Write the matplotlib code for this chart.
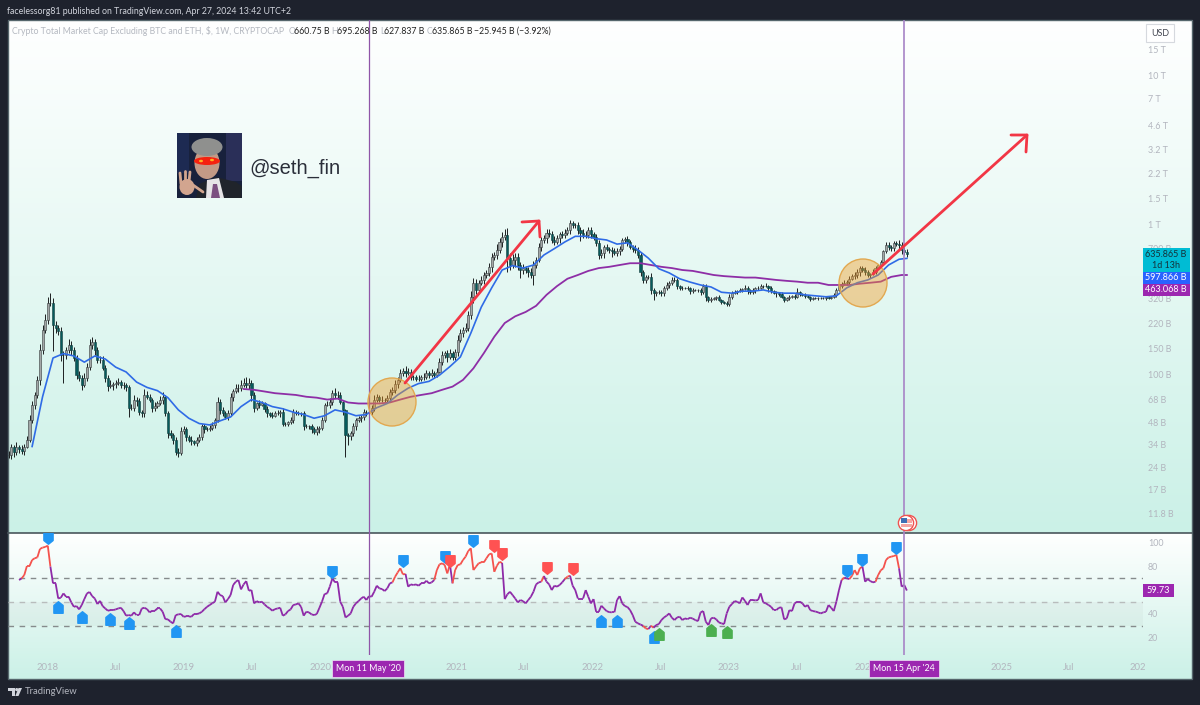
import numpy as np
import pandas as pd
import matplotlib
matplotlib.use("Agg")
import matplotlib.pyplot as plt
import matplotlib.dates as mdates
from matplotlib.collections import LineCollection
from matplotlib.patches import Rectangle, Circle, Ellipse, Polygon
from matplotlib.path import Path

plt.rcParams['font.family'] = ['Lato', 'DejaVu Sans']

# weekly closes in billions, one row per ten bars
closes = [
    # 2017
    29, 32.5, 30.3, 33, 32, 30.8, 33, 36.7, 50, 63, 73, 92, 146, 199, 232,
    # 2018
    302, 302, 215, 205, 195, 135, 135, 146, 158, 146,
    129, 99, 95, 85, 95, 112, 158, 165, 146, 125,
    125, 110, 95, 84, 85, 86, 88, 89, 85, 85,
    82, 60, 60, 68, 66, 56, 55, 73, 71, 68,
    60, 62, 64, 68, 71, 55, 40.6, 39.6, 36.7, 30.5,
    30, 41.6, 43,
    # 2019
    38, 36.7, 36, 35, 36.7, 38, 45, 43, 43, 44,
    46, 50, 65, 58, 55, 52, 55, 71, 77, 81,
    81, 85, 88, 85, 88, 73, 60, 64, 63, 64,
    59, 55, 54, 53, 55, 55, 56, 47, 47, 48,
    50, 56, 55, 55, 55, 45, 45, 45, 43, 41,
    43, 44,
    # 2020
    50, 63, 63, 65, 75, 73, 73, 65, 58, 39.6,
    39, 40.5, 45, 50, 51, 52, 56, 56, 56, 60,
    68, 71, 68, 68, 68, 70, 76, 79, 87, 92,
    102, 105, 102, 104, 96, 96, 94, 94, 96, 96,
    102, 99, 102, 99, 104, 121, 135, 139, 131, 139,
    131, 141,
    # 2021
    171, 189, 199, 205, 251, 331, 411, 368, 411, 429,
    463, 478, 525, 610, 630, 681, 770, 832, 857, 603,
    540, 584, 610, 540, 500, 515, 500, 485, 463, 540,
    584, 710, 794, 820, 890, 870, 794, 770, 820, 870,
    857, 890, 926, 1030, 1000, 1000, 926, 890, 857, 857,
    926, 870,
    # 2022
    832, 760, 630, 650, 710, 695, 681, 665, 650, 665,
    695, 794, 805, 770, 710, 695, 681, 630, 485, 429,
    447, 447, 368, 350, 355, 355, 350, 380, 397, 411,
    429, 429, 390, 380, 380, 380, 380, 361, 368, 368,
    368, 355, 390, 331, 316, 321, 325, 331, 316, 306,
    300, 297,
    # 2023
    331, 350, 355, 361, 368, 374, 380, 368, 355, 368,
    380, 380, 390, 392, 390, 380, 361, 350, 350, 345,
    331, 316, 325, 331, 336, 331, 355, 345, 341, 336,
    331, 321, 325, 325, 325, 325, 325, 331, 325, 331,
    341, 368, 390, 405, 411, 418, 437, 455, 463, 485,
    515, 500,
    # 2024
    485, 463, 470, 485, 515, 540, 565, 665, 735, 710,
    700, 760, 750, 730, 680, 661, 636,
]

# wick lengths as percent beyond the candle body
wick_up = [
    6, 5, 4, 7, 3, 5, 4, 6, 8, 6, 5, 7, 10, 8, 9,
    10, 17, 8, 6, 5, 7, 6, 5, 9, 6, 5, 4, 7, 5, 8, 6, 9, 8, 5, 4,
    6, 7, 5, 4, 8, 3, 5, 6, 4, 5, 3, 4, 6, 7, 4, 5, 3, 9, 6, 4,
    3, 5, 4, 6, 7, 3, 4, 5, 3, 4, 6, 7, 5,
    4, 3, 5, 2, 4, 6, 3, 4, 3, 5, 4, 3, 9, 5, 4, 3, 5, 6, 4, 7,
    6, 8, 7, 9, 8, 5, 4, 3, 6, 4, 3, 5, 2, 4, 3, 5, 4, 6, 3, 2,
    4, 5, 3, 4, 2, 3, 4, 2, 3, 4, 5, 3,
    4, 3, 6, 7, 5, 8, 6, 4, 3, 2, 3, 4, 5, 3, 4, 3, 5, 4, 6, 5,
    7, 4, 3, 5, 3, 4, 6, 4, 5, 4, 7, 5, 9, 6, 4, 3, 3, 5, 4, 6,
    5, 4, 7, 3, 6, 6, 7, 4, 5, 6, 4, 5,
    7, 6, 5, 8, 6, 9, 7, 6, 5, 6, 5, 4, 6, 7, 5, 9, 6, 8, 9, 12,
    8, 9, 6, 7, 5, 6, 4, 5, 6, 7, 5, 6, 5, 4, 6, 5, 4, 6, 5, 3,
    4, 5, 4, 5, 4, 3, 5, 4, 6, 7, 4, 5,
    3, 4, 5, 6, 4, 5, 3, 4, 6, 5, 4, 3, 4, 5, 3, 4, 6, 4, 5, 3,
    4, 3, 6, 3, 2, 4, 3, 3, 4, 2, 5, 4, 3, 2, 3, 2, 3, 2, 3, 2,
    2, 3, 4, 3, 2, 3, 2, 2, 3, 2, 2, 3,
    4, 3, 3, 2, 3, 2, 4, 3, 2, 3, 2, 3, 3, 2, 4, 2, 3, 2, 3, 2,
    3, 2, 2, 3, 2, 3, 6, 2, 2, 3, 2, 1, 2, 2, 1, 2, 2, 1, 2, 2,
    3, 3, 4, 3, 5, 3, 4, 3, 5, 4, 3, 4,
    4, 3, 2, 4, 3, 2, 3, 3, 4, 5, 4, 3, 3, 6, 5, 5, 5,
]
wick_down = [
    5, 6, 7, 4, 6, 5, 6, 3, 4, 5, 6, 4, 7, 6, 5,
    6, 5, 33, 7, 6, 9, 35, 6, 5, 8, 4, 6, 5, 7, 3, 5, 4, 6, 7, 4,
    5, 3, 6, 7, 4, 8, 5, 3, 4, 6, 5, 14, 3, 5, 7, 4, 6, 5, 3, 4,
    7, 5, 4, 3, 6, 4, 8, 5, 6, 5, 6, 3, 4,
    5, 4, 6, 3, 5, 3, 4, 6, 3, 2, 4, 5, 3, 6, 4, 3, 5, 4, 6, 3,
    5, 4, 3, 5, 6, 9, 6, 4, 5, 3, 5, 6, 3, 4, 2, 3, 5, 4, 3, 4,
    3, 5, 2, 3, 4, 5, 3, 4, 6, 3, 4, 5,
    3, 4, 3, 5, 4, 5, 6, 3, 8, 29, 14, 6, 4, 5, 3, 5, 4, 6, 9, 4,
    5, 3, 4, 3, 5, 3, 6, 4, 5, 7, 3, 4, 5, 3, 4, 5, 3, 4, 3, 5,
    3, 4, 3, 5, 3, 2, 5, 4, 7, 3, 5, 4,
    5, 4, 6, 3, 5, 7, 9, 6, 5, 4, 6, 5, 4, 7, 5, 6, 5, 7, 4, 20,
    8, 5, 10, 7, 12, 6, 5, 8, 4, 14, 5, 3, 6, 4, 7, 5, 4, 5, 3, 7,
    4, 5, 3, 6, 4, 4, 6, 12, 5, 4, 5, 6,
    4, 5, 6, 4, 7, 3, 5, 8, 3, 4, 5, 3, 4, 6, 3, 5, 4, 4, 6, 4,
    5, 3, 6, 10, 4, 3, 5, 4, 3, 5, 4, 3, 5, 3, 4, 2, 3, 5, 3, 2,
    3, 4, 3, 6, 4, 3, 2, 3, 2, 3, 2, 3,
    3, 4, 2, 3, 2, 3, 2, 6, 3, 2, 4, 3, 2, 3, 2, 6, 3, 2, 6, 3,
    2, 4, 2, 3, 2, 3, 2, 3, 2, 3, 2, 3, 2, 2, 3, 2, 2, 3, 1, 2,
    2, 3, 2, 3, 2, 4, 3, 2, 5, 4, 6, 3,
    5, 3, 4, 2, 3, 2, 3, 4, 3, 4, 5, 4, 3, 5, 6, 5, 4,
]

# moving averages, read every fourth bar (billions)
blue_ma = [
    33, 71, 129, 138, 133, 121, 133, 127, 112, 104, 89, 82, 78, 70, 58, 51, 47, 46, 49, 52,
    61, 68, 65, 61, 59, 56, 54, 51, 53, 58, 56, 53, 54, 60, 64, 73, 81, 87, 90, 99,
    113, 131, 189, 282, 380, 500, 535, 515, 540, 630, 695, 770, 840, 840, 810, 794, 745, 760, 681, 600,
    510, 478, 437, 415, 397, 385, 355, 350, 361, 361, 368, 355, 350, 350, 341, 336, 331, 336, 380, 411,
    429, 463, 540, 590, 598,
]
purple_ma = [
    80, 79, 77, 75, 74, 73, 71, 70, 68, 69, 65, 64, 64, 64, 65, 68, 71, 73, 75, 79,
    83, 92, 110, 139, 179, 221, 245, 262, 288, 341, 390, 437, 463, 493, 515, 525, 540, 555, 555, 540,
    525, 515, 500, 493, 478, 463, 455, 450, 445, 445, 437, 429, 423, 418, 411, 411, 397, 397, 397, 405,
    411, 418, 450, 463, 463,
]

# rsi from the fifth bar on
rsi = [
    68.6, 70, 72.8, 80.4, 80.4, 85.5, 87, 87.7, 94.8, 96,
    96.5, 97.6, 79.9, 65.8, 65.8, 53, 53.7, 57.3, 54.5, 54.5,
    49.7, 46, 46.6, 43.8, 47.5, 52.5, 57.3, 58.5, 55, 53,
    48.3, 51, 46.6, 44.6, 42.7, 43.2, 43.2, 43.8, 44.6, 45.2,
    42.4, 38.5, 39, 38.5, 41.3, 39, 39, 44.6, 45.2, 44,
    41.3, 42.7, 42.7, 44.6, 44.6, 41.8, 35.6, 35.4, 33.4, 32,
    39, 39.6, 39.9, 37.6, 37.9, 37.9, 37.6, 39.9, 39.9, 40.4,
    41.8, 44, 46, 47.5, 49, 50.3, 58.7, 55.9, 55, 49.7, 52.5,
    55.9, 64.4, 67.2, 68.6, 60.7, 64.9, 67.7, 59.6, 60.1, 48.9,
    50.8, 49.7, 50.3, 48, 46, 44.6, 42.7, 44, 44.6, 45.2,
    38.5, 39.6, 42.4, 43.8, 47.5, 48, 48.9, 46, 38.5, 41.8,
    41.3, 39.6, 39, 39.9, 45, 50.3, 56.8, 57.3, 63, 70, 66.6,
    66.6, 50.3, 46, 37, 38.5, 40.4, 46, 48.9, 50.8, 53,
    54.5, 51.7, 55, 54.5, 58.7, 63.8, 61.5, 61, 59.3, 61.5,
    65.8, 66.6, 71.4, 75,
    78.5, 73.4, 73.7, 63, 64.9, 64.4, 64.9, 63.8, 65.8, 65.8,
    68, 65.8, 66.6, 68.6, 77, 81.8, 82.7, 81.3, 74.2, 81.8,
    65.8, 77, 81.3, 81.8, 85.5, 88.3, 93, 95.4, 77, 79.9,
    82.7, 83.5, 83.5, 87, 90.3, 91, 75.6, 80.7, 84, 83,
    52.5, 56.5, 58.7, 55.9, 53, 49.7, 51.7, 50.8, 48.9, 51.7,
    54.5, 58.7, 64.9, 66.6, 67.2, 72, 67.2, 64.9, 60.1, 63.8,
    63, 64.4, 66.6, 69.4, 71.4, 72.3, 63.8, 60.1, 53, 53,
    53, 60.1, 54.5, 48.9, 52.5, 41.8, 41.8, 46.9, 44.6, 42.4,
    41.5, 41.3, 41.3, 51.7, 55, 48.9, 46.6, 45.8, 43.2, 39,
    33.4, 32, 31, 30, 27.7, 27.2, 30, 28.3, 30.6, 31.4,
    34.8, 37, 38.5, 40.4, 36.8, 34.8, 37, 37.6, 34.8, 36.2,
    35.6, 36.8, 36, 34.8, 33.9, 41.3, 42.4, 33.4, 30.6, 36.2, 36.8,
    35.4, 32.8, 32, 31.4, 40.4, 46, 48.3, 50.8, 50.3, 48.9,
    53.9, 51, 47.5, 51.7, 51.7, 51.4, 51.7, 57.3, 49.7, 48.9,
    47.5, 46, 43.2, 43.2, 45.2, 45.5, 35.4, 36.2, 43.2, 42.4, 48.9,
    50.3, 50.3, 48.9, 46, 47.5, 43.2, 42.4, 42, 41.3, 40.4,
    41.3, 41.8, 47.5, 45.2, 42.4, 50.3, 60.1, 68.6, 70.6, 70,
    69.4, 72.3, 77, 72.8, 78.5, 79.9, 67.2, 69.4, 67.7, 66.6,
    67.2, 72.8, 76.8, 78.5, 85.5, 87.7, 88.3, 88.9, 89.7, 78.5,
    63, 64.4, 59.73,
]

# signal labels on the rsi pane: bar number and rsi level
blue_down_bars = [15, 124, 151, 167, 178, 321, 327, 340]
blue_down_rsi = [103.8, 75.1, 84.9, 88.3, 101.5, 76.2, 85.2, 95.6]
red_down_bars = [169, 186, 189, 206, 216]
red_down_rsi = [84.6, 97, 90.3, 78.5, 77.9]
blue_up_bars = [19, 28, 39, 46, 64, 227, 233, 247]
blue_up_rsi = [46, 37.6, 35.6, 32, 25.5, 34.2, 34.2, 20.7]
green_up_bars = [249, 269, 275]
green_up_rsi = [22.7, 26, 24.9]

price_ticks = [15000, 10000, 7000, 4600, 3200, 2200, 1500, 1000, 700, 320, 220, 150, 100, 68, 48, 34, 24, 17, 11.8]
price_labels = ['15 T', '10 T', '7 T', '4.6 T', '3.2 T', '2.2 T', '1.5 T', '1 T', '700 B', '320 B', '220 B',
                '150 B', '100 B', '68 B', '48 B', '34 B', '24 B', '17 B', '11.8 B']
rsi_ticks = [100, 80, 40, 20]
time_ticks = ['2018-01-01', '2018-07-01', '2019-01-01', '2019-07-01', '2020-01-01', '2021-01-01', '2021-07-01',
              '2022-01-01', '2022-07-01', '2023-01-01', '2023-07-01', '2024-01-01', '2025-01-01', '2025-07-01',
              '2026-01-01']
time_labels = ['2018', 'Jul', '2019', 'Jul', '2020', '2021', 'Jul', '2022', 'Jul', '2023', 'Jul', '2024',
               '2025', 'Jul', '202']
marked_dates = ['2020-05-11', '2024-04-15']

DARK = '#1e222d'
AXIS_TEXT = '#b2b5be'
PURPLE = '#9c27b0'
W, H = 1200, 705


def px_rect(x0, y0, x1, y1):
    # axes rectangle from pixel corners, y counted from the top
    return [x0 / W, 1 - y1 / H, (x1 - x0) / W, (y1 - y0) / H]


def gradient(ax, extent, bottom_color):
    c0 = np.array(matplotlib.colors.to_rgb('#ffffff'))
    c1 = np.array(matplotlib.colors.to_rgb(bottom_color))
    t = np.linspace(0, 1, 256)[:, None, None]
    img = c0[None, None, :] * (1 - t) + c1[None, None, :] * t
    ax.imshow(img, extent=extent, aspect='auto', interpolation='bilinear', zorder=1)


fig = plt.figure(figsize=(12, 7.05), dpi=100, facecolor=DARK)

# background layer
bg = fig.add_axes([0, 0, 1, 1], zorder=0)
gradient(bg, (7.5, 1192, 533, 20), '#cbf1e7')
gradient(bg, (7.5, 1192, 679, 533), '#cbf1e7')
bg.set_xlim(0, W)
bg.set_ylim(H, 0)
bg.axis('off')
bg.add_patch(Rectangle((7.5, 20), 1184.5, 659, fill=False, ec='#56666c', lw=1, zorder=3))
bg.plot([7.5, 1192], [533, 533], color='#4a565c', lw=1.2, zorder=3)

# price pane
ax = fig.add_axes(px_rect(7.5, 20, 1143, 533), zorder=1)
ax.patch.set_alpha(0)
ax.set_yscale('log')

c = np.array(closes, dtype=float)
o = np.r_[c[0], c[:-1]]
o[-1] = 660.75
hi = np.maximum(o, c) * (1 + np.array(wick_up) / 100)
lo = np.minimum(o, c) * (1 - np.array(wick_down) / 100)
dates = pd.date_range('2017-09-18', periods=len(c), freq='7D')
x = mdates.date2num(dates)
up = c >= o

ax.vlines(x, lo, hi, color='#1c1f20', lw=0.7, zorder=2)
ax.bar(x[up], (c - o)[up], bottom=o[up], width=5.6, color='#a3a7a7', edgecolor='#33383a', lw=0.4, zorder=3)
ax.bar(x[~up], (o - c)[~up], bottom=c[~up], width=5.6, color='#075b5c', edgecolor='#123c3c', lw=0.4, zorder=3)

blue_idx = [9 + 4 * i for i in range(len(blue_ma) - 1)] + [len(c) - 1]
purple_idx = [90 + 4 * i for i in range(len(purple_ma) - 1)] + [len(c) - 1]
ax.plot(x[purple_idx], purple_ma, color='#8e2ea6', lw=1.3, zorder=4)
ax.plot(x[blue_idx], blue_ma, color='#2f6be6', lw=1.2, zorder=5)

anchor = mdates.date2num(pd.Timestamp('2020-05-11'))
ax.set_xlim(anchor - 969, anchor + 2075)
ax.set_ylim(8.71, 23500)
ax.set_xticks([])
ax.set_yticks(price_ticks, price_labels)
ax.minorticks_off()
ax.tick_params(axis='y', which='both', left=False, right=False, length=0, labelleft=False, labelright=True,
               pad=3.5, labelsize=6.4, labelcolor=AXIS_TEXT)
for s in ax.spines.values():
    s.set_visible(False)

# rsi pane
ax2 = fig.add_axes(px_rect(7.5, 533, 1143, 655), zorder=1)
ax2.patch.set_alpha(0)
ax2.axhspan(30, 50, color='#808080', alpha=0.06, lw=0, zorder=1)
ax2.axhline(70, color='#868b8c', lw=1, dashes=(4, 4), zorder=2)
ax2.axhline(50, color='#b8bcbc', lw=1, dashes=(4, 4), zorder=2)
ax2.axhline(30, color='#868b8c', lw=1, dashes=(4, 4), zorder=2)

r = np.array(rsi)
rx = x[-len(r):]
pts = np.column_stack([rx, r])
segs = np.stack([pts[:-1], pts[1:]], axis=1)
seg_colors = ['#f4524d' if v > 70 or v < 30 else '#8e2aa8' for v in r[1:]]
ax2.add_collection(LineCollection(segs, colors=seg_colors, linewidths=1.3, zorder=3))

marker_down = Path([(-0.8, 1), (0.8, 1), (0.8, -0.35), (0, -1), (-0.8, -0.35), (-0.8, 1)], closed=True)
marker_up = Path([(-0.8, -1), (0.8, -1), (0.8, 0.35), (0, 1), (-0.8, 0.35), (-0.8, -1)], closed=True)
for bars, levels, marker, color in [(blue_down_bars, blue_down_rsi, marker_down, '#2196f3'),
                                    (blue_up_bars, blue_up_rsi, marker_up, '#2196f3'),
                                    (red_down_bars, red_down_rsi, marker_down, '#ff5252'),
                                    (green_up_bars, green_up_rsi, marker_up, '#4caf50')]:
    ax2.plot(x[bars], levels, ls='none', marker=marker, ms=8.3, mfc=color, mec=color, mew=1, zorder=4)

ax2.set_xlim(ax.get_xlim())
ax2.set_ylim(5.3, 108.3)
ax2.set_yticks(rsi_ticks)
ax2.set_xticks(mdates.date2num(pd.to_datetime(time_ticks)), time_labels)
ax2.tick_params(axis='y', left=False, right=False, length=0, labelleft=False, labelright=True, pad=3.5,
                labelsize=6.4, labelcolor=AXIS_TEXT)
ax2.tick_params(axis='x', bottom=False, length=0, pad=6, labelsize=6.8, labelcolor=AXIS_TEXT)
for s in ax2.spines.values():
    s.set_visible(False)

# crosshair lines through both panes
for a in (ax, ax2):
    a.axvline(mdates.date2num(pd.Timestamp(marked_dates[0])), color='#8f55a8', lw=0.9, zorder=6)
    a.axvline(mdates.date2num(pd.Timestamp(marked_dates[1])), color='#a784c6', lw=1.2, zorder=6)

# drawings and labels on top, in figure pixels
top = fig.add_axes([0, 0, 1, 1], zorder=3)
top.patch.set_alpha(0)
top.set_xlim(0, W)
top.set_ylim(H, 0)
top.axis('off')

for cx, cy in [(392, 402), (863, 283)]:
    top.add_patch(Circle((cx, cy), 24, fc='#f59b23', alpha=0.42, lw=0))
    top.add_patch(Circle((cx, cy), 24, fill=False, ec='#e2a850', lw=1))

for line in [[(405, 383), (539, 221)], [(522, 222), (539, 221), (540, 237)],
             [(873, 274), (1027, 135)], [(1011, 135), (1027, 135), (1026, 152)]]:
    xs, ys = zip(*line)
    top.plot(xs, ys, color='#f23645', lw=2, solid_capstyle='round', solid_joinstyle='round')

# avatar
top.add_patch(Rectangle((176.7, 133), 65, 65, fc='#18213c', lw=0))
top.add_patch(Rectangle((176.7, 133), 12, 40, fc='#1d2a52', lw=0))
top.add_patch(Rectangle((226, 133), 15.7, 48, fc='#2a2f58', lw=0))
top.add_patch(Polygon([(196, 198), (199, 184), (216, 177), (236, 182), (241.7, 186), (241.7, 198)], fc='#20242b', lw=0))
top.add_patch(Polygon([(206, 198), (207, 180), (219, 178), (224, 198)], fc='#e6e4e6', lw=0))
top.add_patch(Polygon([(211, 198), (213, 184), (217, 184), (220, 198)], fc='#7c4f80', lw=0))
top.add_patch(Ellipse((207, 163), 25, 32, fc='#c39a86', lw=0))
top.add_patch(Ellipse((207, 147), 31, 18, fc='#8f908e', lw=0))
top.add_patch(Ellipse((207, 161), 26, 8, fc='#f5210f', lw=0))
top.add_patch(Ellipse((201, 161), 4, 2.5, fc='#ffb020', lw=0))
top.add_patch(Ellipse((212, 160), 4, 2.5, fc='#ffb020', lw=0))
top.add_patch(Ellipse((187, 187), 15, 16, fc='#d2a58f', lw=0))
for fx0, fy0, fx1, fy1 in [(181, 184, 180, 173), (185, 182, 185, 171), (189, 182, 190, 172), (193, 185, 203, 192)]:
    top.plot([fx0, fx1], [fy0, fy1], color='#d2a58f', lw=2, solid_capstyle='round')
top.text(249, 168, '@seth_fin', fontsize=14.5, family='Liberation Sans', color='#2a2e39', va='center', ha='left')

# header and legend
top.text(7, 11, 'facelessorg81 published on TradingView.com, Apr 27, 2024 13:42 UTC+2', fontsize=6.3, color='#d1d4dc',
         va='center')
top.text(12, 31, 'Crypto Total Market Cap Excluding BTC and ETH, $, 1W, CRYPTOCAP', fontsize=6.3, color='#b4b8c0',
         va='center')
for lx, text, color in [(288.5, 'O', '#b4b8c0'), (294, '660.75 B', '#222'), (331.5, 'H', '#b4b8c0'), (337, '695.268 B', '#222'),
                        (380, 'L', '#b4b8c0'), (384, '627.837 B', '#222'), (426.5, 'C', '#b4b8c0'), (432, '635.865 B', '#222'),
                        (474, '\u221225.945 B (\u22123.92%)', '#222')]:
    top.text(lx, 31, text, fontsize=6.3, color=color, va='center')
top.add_patch(Rectangle((1146, 24), 28, 18, fc='white', ec='#d6d9de', lw=0.8))
top.text(1160, 33, 'USD', fontsize=6.4, color='#434651', ha='center', va='center')

# last value tags on the price scale
top.add_patch(Rectangle((1142.5, 248), 47, 24, fc='#00bcd4', lw=0))
top.text(1166, 254.5, '635.865 B', fontsize=6.5, color='#14323a', ha='center', va='center')
top.text(1166, 265, '1d 13h', fontsize=6.5, color='#14323a', ha='center', va='center')
top.add_patch(Rectangle((1142.5, 272), 47, 11.5, fc='#2962ff', lw=0))
top.text(1166, 277.5, '597.866 B', fontsize=6.5, color='white', ha='center', va='center')
top.add_patch(Rectangle((1142.5, 283.5), 47, 12.5, fc=PURPLE, lw=0))
top.text(1166, 289.5, '463.068 B', fontsize=6.5, color='white', ha='center', va='center')
top.add_patch(Rectangle((1143, 584), 31, 13, fc=PURPLE, lw=0))
top.text(1158.5, 590.5, '59.73', fontsize=6.6, color='white', ha='center', va='center')

# date tags under the crosshairs
for x0, x1, text in [(332, 404, "Mon 11 May '20"), (869, 939, "Mon 15 Apr '24")]:
    top.add_patch(Rectangle((x0, 660), x1 - x0, 17, fc=PURPLE, ec='#efe3f3', lw=0.5))
    top.text((x0 + x1) / 2, 668.5, text, fontsize=6.4, color='white', ha='center', va='center')

# us flag event icon
top.add_patch(Circle((909, 523), 7.6, fc='white', ec='#ef5350', lw=1))
top.add_patch(Circle((906, 523), 7.6, fc='white', ec='#ef5350', lw=1))
top.add_patch(Rectangle((901, 519), 11, 7.5, fc='#f6a6a4', lw=0))
top.add_patch(Rectangle((901, 523), 11, 1.3, fc='white', lw=0))
top.add_patch(Rectangle((901, 518), 5.5, 5, fc='#3f6fb5', lw=0))

# tradingview logo
top.add_patch(Polygon([(8, 688), (15, 688), (15, 696), (11.5, 696), (11.5, 691), (8, 691)], fc='#d1d4dc', lw=0))
top.add_patch(Circle((16.7, 689.6), 1.6, fc='#d1d4dc', lw=0))
top.add_patch(Polygon([(18.5, 688), (22, 688), (18.5, 696), (15.3, 696)], fc='#d1d4dc', lw=0))
top.text(25, 692, 'TradingView', fontsize=6.8, color='#b2b5be', va='center')

fig.savefig('out.png', dpi=100, facecolor=DARK)
